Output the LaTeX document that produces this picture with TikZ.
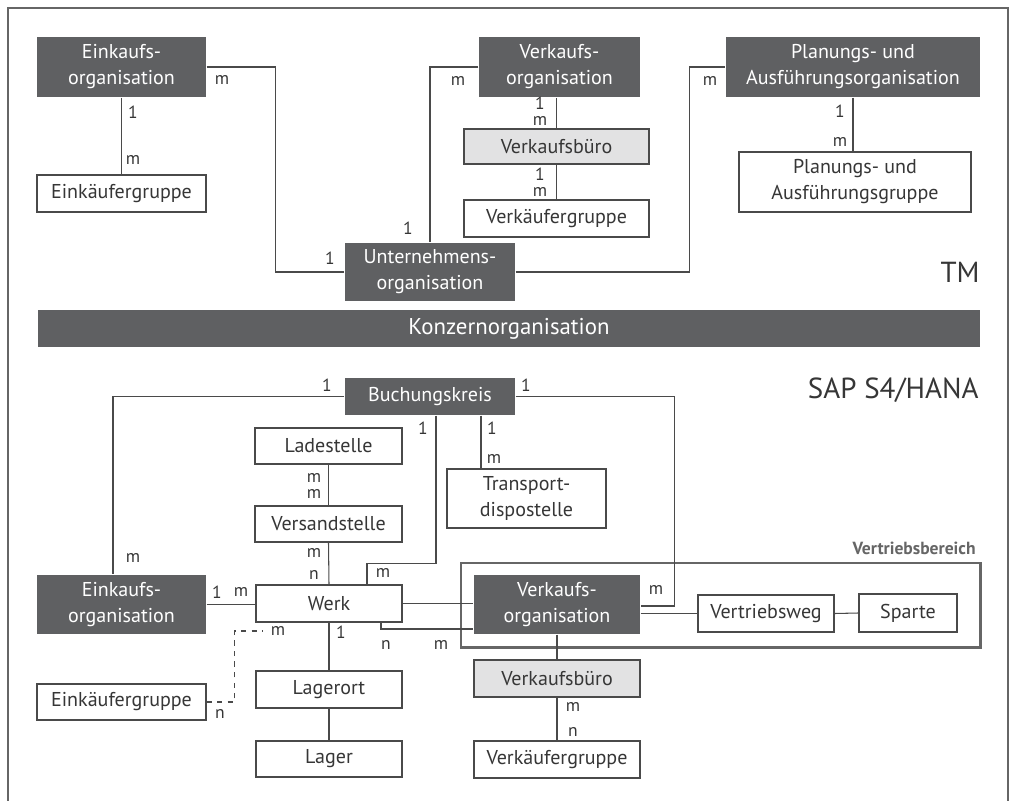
\documentclass[tikz,border=0pt]{standalone}
\usepackage{fontspec}
\setmainfont{PT Sans}
\definecolor{boxdark}{HTML}{5F6062}
\definecolor{boxlight}{HTML}{E2E2E3}
\definecolor{linegray}{HTML}{4A4A4A}
\definecolor{textgray}{HTML}{363636}
\definecolor{framegray}{HTML}{666666}
\tikzset{
  boxsize/.style 2 args={minimum width=#1*0.02cm, minimum height=#2*0.02cm},
  basebox/.style={draw=linegray, line width=0.7pt, align=center, inner sep=0pt,
    text=textgray, font=\fontsize{11.4}{14.8}\selectfont},
  orgbox/.style={basebox, draw=none, fill=boxdark, text=white},
  lightbox/.style={basebox, fill=boxlight},
  plainbox/.style={basebox, fill=white},
  card/.style={inner sep=0pt, text=textgray, font=\fontsize{10}{10}\selectfont},
  conn/.style={draw=linegray, line width=0.6pt},
  bigtitle/.style={inner sep=0pt, text=textgray, font=\fontsize{16.5}{18}\selectfont},
}
\begin{document}
\begin{tikzpicture}[x=0.02cm, y=-0.02cm]
    \useasboundingbox (0,0) rectangle (1011,801);
    \draw[framegray, line width=0.8pt] (8,801) -- (8,8) -- (1008,8) -- (1008,801);

    % TM, Row 1
    \node[orgbox, boxsize={169}{60}] (eoT) at (121.5,67) {Einkaufs-\\organisation};
    \node[orgbox, boxsize={161}{60}] (voT) at (559.5,67) {Verkaufs-\\organisation};
    \node[orgbox, boxsize={254}{60}] (paoT) at (853,67) {Planungs- und\\Ausführungsorganisation};

    % TM, Row 2
    \node[lightbox, boxsize={185}{35}] (vbT) at (556.5,146.5) {Verkaufsbüro};
    \node[plainbox, boxsize={232}{60}] (pagT) at (855,182) {Planungs- und\\Ausführungsgruppe};
    \node[plainbox, boxsize={169}{37}] (ekgT) at (121.5,193.5) {Einkäufergruppe};
    \node[plainbox, boxsize={185}{37}] (vkgT) at (556.5,218.5) {Verkäufergruppe};

    % TM, Row 3
    \node[orgbox, boxsize={170}{58}] (uoT) at (430,272) {Unternehmens-\\organisation};
    \node[bigtitle, anchor=east] (tm) at (980,272) {TM};

    % Konzern
    \node[orgbox, boxsize={942}{37}, font=\fontsize{13}{15}\selectfont] (konzern) at (509,328.5) {Konzernorganisation};

    % SAP, Row 1
    \node[bigtitle, anchor=east] (sap) at (979,390) {SAP S4/HANA};
    \node[orgbox, boxsize={170}{37}] (bk) at (430,396.5) {Buchungskreis};

    % SAP, Row 2
    \node[plainbox, boxsize={147}{36}] (ladest) at (328.5,446) {Ladestelle};
    \node[plainbox, boxsize={159}{59}] (trans) at (526.5,498.5) {Transport-\\dispostelle};
    \node[plainbox, boxsize={147}{36}] (versand) at (328.5,524) {Versandstelle};
    \node[inner sep=0pt, text=framegray, font=\fontsize{10}{12}\bfseries, anchor=east] (vbereich) at (976,548) {Vertriebsbereich};

    % SAP, Row 3
    \node[draw=framegray, line width=1.7pt, minimum width=519*0.02cm, minimum height=84*0.02cm, inner sep=0pt] (vbrahmen) at (720.5,605) {};
    \node[orgbox, boxsize={169}{59}] (eoS) at (121.5,604.5) {Einkaufs-\\organisation};
    \node[plainbox, boxsize={146}{37}] (werk) at (329,603.5) {Werk};
    \node[orgbox, boxsize={166}{59}] (voS) at (557,604.5) {Verkaufs-\\organisation};
    \node[plainbox, boxsize={136}{37}] (vweg) at (766,613.5) {Vertriebsweg};
    \node[plainbox, boxsize={98}{38}] (sparte) at (908,613) {Sparte};

    % SAP, Row 4
    \node[lightbox, boxsize={166}{37}] (vbS) at (557,678.5) {Verkaufsbüro};
    \node[plainbox, boxsize={146}{37}] (lagerort) at (329,689.5) {Lagerort};
    \node[plainbox, boxsize={169}{36}] (ekgS) at (121.5,702) {Einkäufergruppe};
    \coordinate (dashend) at (263,631);

    % SAP, Row 5
    \node[plainbox, boxsize={146}{36}] (lager) at (329,759) {Lager};
    \node[plainbox, boxsize={166}{37}] (vkgS) at (557,759.5) {Verkäufergruppe};

    % Edges TM
    \draw[conn] (eoT.south) -- (ekgT.north);
    \draw[conn] (eoT.east) -- ++(69,0) |- (uoT.west);
    \draw[conn] (voT.west) -| (uoT.north);
    \draw[conn] (vbT.north) -- (vbT.north |- voT.south);
    \draw[conn] (vbT.south) -- (vkgT.north);
    \draw[conn] (uoT.east) -- ++(174,0) |- (paoT.west);
    \draw[conn] (paoT.south) -- (paoT.south |- pagT.north);

    % Edges SAP
    \draw[conn] (bk.west) -| ([xshift=-0.17cm]eoS.north);
    \draw[conn] (bk.east) -- ++(159,0) |- ([yshift=-0.03cm]voS.east);
    \draw[conn] ([xshift=0.12cm]bk.south) -- ++(0,148) -| ([xshift=0.76cm]werk.north);
    \draw[conn] ([xshift=1.02cm]bk.south) -- ([xshift=1.02cm]bk.south |- trans.north);
    \draw[conn] (ladest.south) -- (versand.north);
    \draw[conn] (versand.south) -- (werk.north);
    \draw[conn] (eoS.east) -- (eoS.east -| werk.west);
    \draw[conn] (werk.south) -- (lagerort.north);
    \draw[conn] (lagerort.south) -- (lager.north);
    \draw[conn] (werk.east) -- (werk.east -| voS.west);
    \draw[conn] ([xshift=1.04cm]werk.south) |- ([yshift=-0.49cm]voS.west);
    \draw[conn, dashed] (ekgS.east) -- ++(28,0) |- (dashend);
    \draw[conn] (vweg.west -| voS.east) -- (vweg.west);
    \draw[conn] (vweg.east) -- (sparte.west);
    \draw[conn] (voS.south) -- (vbS.north);
    \draw[conn] (vbS.south) -- (vkgS.north);

    % Kardinalitaeten TM
    \node[card] (c1) at (222,80) {m};
    \node[card] (c2) at (133,112) {1};
    \node[card] (c3) at (133,160) {m};
    \node[card] (c4) at (330,258) {1};
    \node[card] (c5) at (458,81) {m};
    \node[card] (c6) at (408,228) {1};
    \node[card] (c7) at (540,103) {1};
    \node[card] (c8) at (540,121) {m};
    \node[card] (c9) at (540,174) {1};
    \node[card] (c10) at (540,192) {m};
    \node[card] (c11) at (710,81) {m};
    \node[card] (c12) at (840,111) {1};
    \node[card] (c13) at (840,142) {m};

    % Kardinalitaeten SAP
    \node[card] (c14) at (327,385) {1};
    \node[card] (c15) at (526,385) {1};
    \node[card] (c16) at (423,428) {1};
    \node[card] (c17) at (492,428) {1};
    \node[card] (c18) at (494,459) {m};
    \node[card] (c19) at (314,478) {m};
    \node[card] (c20) at (314,494) {m};
    \node[card] (c21) at (314,553) {m};
    \node[card] (c22) at (314,575) {n};
    \node[card] (c23) at (133,558) {m};
    \node[card] (c24) at (383,573) {m};
    \node[card] (c25) at (217,592) {1};
    \node[card] (c26) at (241,592) {m};
    \node[card] (c27) at (278,631) {m};
    \node[card] (c28) at (220,714) {n};
    \node[card] (c29) at (341,632) {1};
    \node[card] (c30) at (386,645) {n};
    \node[card] (c31) at (441,645) {m};
    \node[card] (c32) at (656,590) {m};
    \node[card] (c33) at (573,707) {m};
    \node[card] (c34) at (573,732) {n};
\end{tikzpicture}
\end{document}
